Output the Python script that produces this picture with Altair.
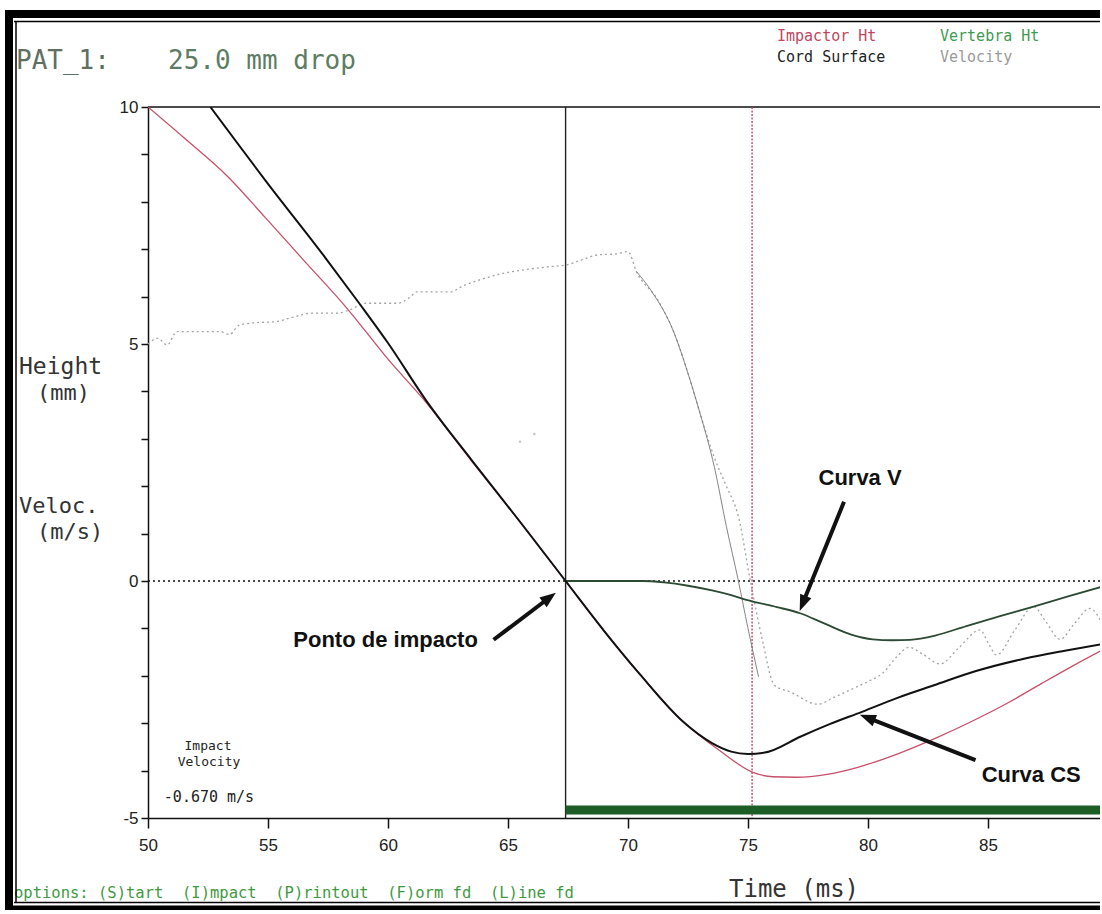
import math
import altair as alt
import pandas as pd

# ---------------- data ----------------
imp_t = [50.0, 51.5, 53.33, 54.9, 56.5, 58.23, 60.0, 61.6, 63.5, 65.5, 67.4, 69.0, 70.5, 72.3, 73.8,
         75.26, 76.04, 77.0, 78.3, 79.5, 81.27, 82.8, 84.25, 85.8, 87.24, 88.5, 89.75]
imp_v = [10.0, 9.35, 8.53, 7.66, 6.76, 5.79, 4.68, 3.76, 2.52, 1.25, 0.0, -1.05, -1.97, -2.97, -3.57,
         -4.05, -4.13, -4.14, -4.08, -3.94, -3.64, -3.32, -2.98, -2.58, -2.16, -1.8, -1.46]

cs_t = [52.6, 55.0, 57.36, 58.8, 60.0, 61.6, 63.5, 65.5, 67.4, 69.0, 70.5, 72.3, 73.5, 74.3, 75.0,
        75.7, 77.2, 78.4, 79.75, 81.2, 82.75, 84.5, 86.5, 88.2, 89.75]
cs_v = [10.0, 8.38, 6.84, 5.86, 5.02, 3.8, 2.54, 1.25, 0.0, -1.05, -1.97, -2.97, -3.42, -3.6, -3.65,
        -3.62, -3.28, -3.02, -2.76, -2.47, -2.2, -1.9, -1.64, -1.47, -1.33]

vert_t = [67.4, 70.6, 71.5, 72.5, 73.5, 74.3, 75.1, 76.2, 77.17, 78.2, 79.3, 80.2, 81.0, 81.75, 82.8,
          84.1, 85.5, 86.9, 88.3, 89.75]
vert_v = [0.0, 0.0, -0.03, -0.1, -0.2, -0.3, -0.42, -0.55, -0.68, -0.9, -1.13, -1.23, -1.25, -1.24,
          -1.15, -0.95, -0.74, -0.54, -0.33, -0.12]

vel_t = [50.0, 50.4, 50.8, 51.2, 52.0, 53.0, 53.4, 53.8, 54.5, 55.3, 56.0, 56.8, 57.9, 58.4, 59.1,
         60.4, 60.9, 61.2, 62.6, 63.1, 63.8, 64.8, 65.6, 66.7, 67.45, 68.1, 68.75, 69.5, 70.0, 70.35,
         71.24, 71.9, 72.5, 73.0, 73.6, 74.1, 74.6, 75.1, 75.6, 76.1, 76.8, 77.9, 78.6, 79.25, 80.0,
         80.6, 81.2, 81.7, 82.3, 83.0, 83.8, 84.67, 85.0, 85.36, 86.1, 86.9, 87.4, 88.0, 88.6, 89.25,
         89.75]
vel_v = [5.0, 5.12, 4.98, 5.26, 5.26, 5.26, 5.2, 5.4, 5.45, 5.47, 5.56, 5.65, 5.65, 5.72, 5.86,
         5.86, 5.98, 6.1, 6.1, 6.22, 6.35, 6.49, 6.56, 6.63, 6.67, 6.78, 6.88, 6.9, 6.95, 6.53,
         5.93, 5.26, 4.38, 3.54, 2.6, 2.0, 1.36, 0.0, -1.25, -2.2, -2.35, -2.6, -2.45, -2.3, -2.12,
         -1.95, -1.6, -1.4, -1.55, -1.75, -1.4, -1.03, -1.3, -1.56, -1.05, -0.54, -0.85, -1.23, -0.9, -0.58,
         -0.89]

fit_t = [70.35, 71.0, 71.9, 72.5, 73.0, 73.6, 74.1, 74.6, 75.0, 75.44]
fit_v = [6.53, 6.1, 5.26, 4.38, 3.54, 2.4, 1.15, 0.0, -1.0, -2.02]

stray_t = [65.5, 66.1]
stray_v = [2.94, 3.1]

impact_t = 67.4
marker_t = 75.17

# annotations: label, label position, arrow tail, arrow head
ann_text = ["Ponto de impacto", "Curva V", "Curva CS"]
ann_t = [59.9, 79.67, 86.8]
ann_v = [-1.24, 2.18, -4.1]
tail_t = [64.4, 79.0, 84.48]
tail_v = [-1.24, 1.67, -3.78]
head_t = [66.96, 77.17, 79.7]
head_v = [-0.26, -0.61, -2.83]

xticks = [50, 55, 60, 65, 70, 75, 80, 85]
yticks = list(range(-5, 11))

# ---------------- layout ----------------
LEFT, TOP = 148, 107
W, H = 952, 711
X0 = 50.0
X1 = X0 + W / 24.0
Y0, Y1 = -5.0, 10.0
PX = W / (X1 - X0)
PY = H / (Y1 - Y0)

tickfont = "'Liberation Sans Narrow', 'Liberation Sans', Arial, sans-serif"
xs = alt.Scale(domain=[X0, X1], nice=False, zero=False)
ys = alt.Scale(domain=[Y0, Y1], nice=False, zero=False)
xaxis = alt.Axis(values=xticks, tickSize=10, tickWidth=1.5, tickColor="#111", domainColor="#111",
                 domainWidth=1.5, labelFont=tickfont, labelFontSize=17, labelColor="#222",
                 labelPadding=9, grid=False, title=None, labelFlush=False)
yaxis = alt.Axis(values=yticks, labelExpr="datum.value % 5 == 0 ? '' + datum.value : ''",
                 tickSize=7, tickWidth=1.5, tickColor="#111", domainColor="#111", domainWidth=1.5,
                 labelFont=tickfont, labelFontSize=17, labelColor="#222", labelPadding=3,
                 grid=False, title=None)
X = alt.X("t:Q", scale=xs, axis=xaxis, title=None)
Y = alt.Y("v:Q", scale=ys, axis=yaxis, title=None)


def df(t, v):
    return pd.DataFrame({"t": t, "v": v})


def line(t, v, **kw):
    return alt.Chart(df(t, v)).mark_line(clip=True, interpolate="monotone", **kw).encode(x=X, y=Y)


layers = []
# frame line on top and zero line
layers.append(alt.Chart(df([X0, X1], [10, 10])).mark_line(color="#111", strokeWidth=1.5).encode(x=X, y=Y))
layers.append(alt.Chart(df([X0, X1], [0, 0])).mark_line(color="#111", strokeWidth=1.6,
                                                       strokeDash=[2, 3]).encode(x=X, y=Y))
# vertical markers
layers.append(alt.Chart(pd.DataFrame({"t": [impact_t]})).mark_rule(color="#222", strokeWidth=1.4)
              .encode(x=X, y=alt.value(0), y2=alt.value(H)))
layers.append(alt.Chart(pd.DataFrame({"t": [marker_t]})).mark_rule(color="#c23a5a", strokeWidth=1.3,
                                                                  strokeDash=[2, 1.5])
              .encode(x=X, y=alt.value(0), y2=alt.value(H)))
# green bar at bottom
layers.append(alt.Chart(df([impact_t, X1], [-4.83, -4.83])).mark_line(color="#1d5e26", strokeWidth=9,
                                                                    strokeCap="butt").encode(x=X, y=Y))
# series
layers.append(line(vel_t, vel_v, color="#a3a3a3", strokeWidth=1.3, strokeDash=[2, 3]))
layers.append(line(fit_t, fit_v, color="#777777", strokeWidth=0.9))
layers.append(alt.Chart(df(stray_t, stray_v)).mark_point(shape="circle", size=6, filled=True,
                                                        color="#aaaaaa").encode(x=X, y=Y))
layers.append(line(vert_t, vert_v, color="#2c4a33", strokeWidth=1.8))
layers.append(line(imp_t, imp_v, color="#c8506a", strokeWidth=1.3))
layers.append(line(cs_t, cs_v, color="#111111", strokeWidth=2.0))

# arrows
shaft_rows, head_rows = [], []
for i in range(len(ann_text)):
    dx = (head_t[i] - tail_t[i]) * PX
    dy = -(head_v[i] - tail_v[i]) * PY
    L = math.hypot(dx, dy)
    ux, uy = dx / L, dy / L
    end_t = head_t[i] - 9 * ux / PX
    end_v = head_v[i] + 9 * uy / PY
    shaft_rows += [{"t": tail_t[i], "v": tail_v[i], "id": i}, {"t": end_t, "v": end_v, "id": i}]
    ang = math.degrees(math.atan2(dx, -dy)) % 360
    head_rows.append({"t": head_t[i] - 7 * ux / PX, "v": head_v[i] + 7 * uy / PY, "ang": ang})
layers.append(alt.Chart(pd.DataFrame(shaft_rows)).mark_line(color="#111", strokeWidth=4)
              .encode(x=X, y=Y, detail="id:N"))
layers.append(alt.Chart(pd.DataFrame(head_rows)).mark_point(
    shape="M0,-1L0.75,1L-0.75,1Z", filled=True, color="#111", size=260, opacity=1)
    .encode(x=X, y=Y, angle=alt.Angle("ang:Q", scale=None)))
layers.append(alt.Chart(pd.DataFrame({"t": ann_t, "v": ann_v, "label": ann_text})).mark_text(
    font="Liberation Sans", fontWeight="bold", fontSize=22, color="#111", align="center",
    baseline="middle").encode(x=X, y=Y, text="label:N"))


def ptext(text, px, py, size, color, font="DejaVu Sans Mono", align="left", weight="normal"):
    return alt.Chart(pd.DataFrame({"label": [text]})).mark_text(
        align=align, baseline="middle", fontSize=size, font=font, color=color, fontWeight=weight
    ).encode(x=alt.value(px - LEFT), y=alt.value(py - TOP), text="label:N")


NB = "\u00a0"
options_text = ("options:" + NB + "(S)tart" + NB * 2 + "(I)mpact" + NB * 2 + "(P)rintout" + NB * 2
                + "(F)orm" + NB + "fd" + NB * 2 + "(L)ine" + NB + "fd")
layers += [
    ptext("PAT_1:", 16, 61, 26, "#5f6f62"),
    ptext("25.0" + NB + "mm" + NB + "drop", 168, 61, 26, "#5d7d63"),
    ptext("Impactor Ht", 777, 36, 15, "#c0455e"),
    ptext("Vertebra Ht", 940, 36, 15, "#3f9a52"),
    ptext("Cord Surface", 777, 57, 15, "#222222"),
    ptext("Velocity", 940, 57, 15, "#9a9a9a"),
    ptext("Height", 19, 367, 23, "#333333"),
    ptext("(mm)", 37, 393, 22, "#333333"),
    ptext("Veloc.", 19, 506, 22, "#333333"),
    ptext("(m/s)", 37, 532, 22, "#333333"),
    ptext("Impact", 208, 746, 13, "#222222", align="center"),
    ptext("Velocity", 209, 762, 13, "#222222", align="center"),
    ptext("-0.670" + NB + "m/s", 209, 797, 15, "#222222", align="center"),
    ptext("Time" + NB + "(ms)", 794, 890, 24, "#333333", align="center"),
    ptext(options_text, 14, 893, 15.5, "#3f9a3f"),
]

# screen frame (decoration)
dummy = pd.DataFrame({"a": [0]})


def hrule(py, x1, x2, w):
    return alt.Chart(dummy).mark_rule(color="#000", strokeWidth=w).encode(
        x=alt.value(x1 - LEFT), x2=alt.value(x2 - LEFT), y=alt.value(py - TOP))


def vrule(px, y1, y2, w):
    return alt.Chart(dummy).mark_rule(color="#000", strokeWidth=w).encode(
        x=alt.value(px - LEFT), y=alt.value(y1 - TOP), y2=alt.value(y2 - TOP))


layers += [
    hrule(14, 5, 1102, 8), hrule(21.5, 14, 1102, 1.5),
    vrule(9, 10, 912, 8), vrule(16, 21, 903, 1.5),
    hrule(902.5, 14, 1102, 1.5), hrule(908, 5, 1102, 5),
]

chart = alt.layer(*layers).properties(
    width=W, height=H,
    padding={"left": LEFT, "top": TOP, "right": 0, "bottom": 910 - TOP - H},
    autosize=alt.AutoSizeParams(type="none"),
    background="white",
).configure_view(stroke=None)

chart.save("out.html", embed_options={"renderer": "svg", "actions": False})
